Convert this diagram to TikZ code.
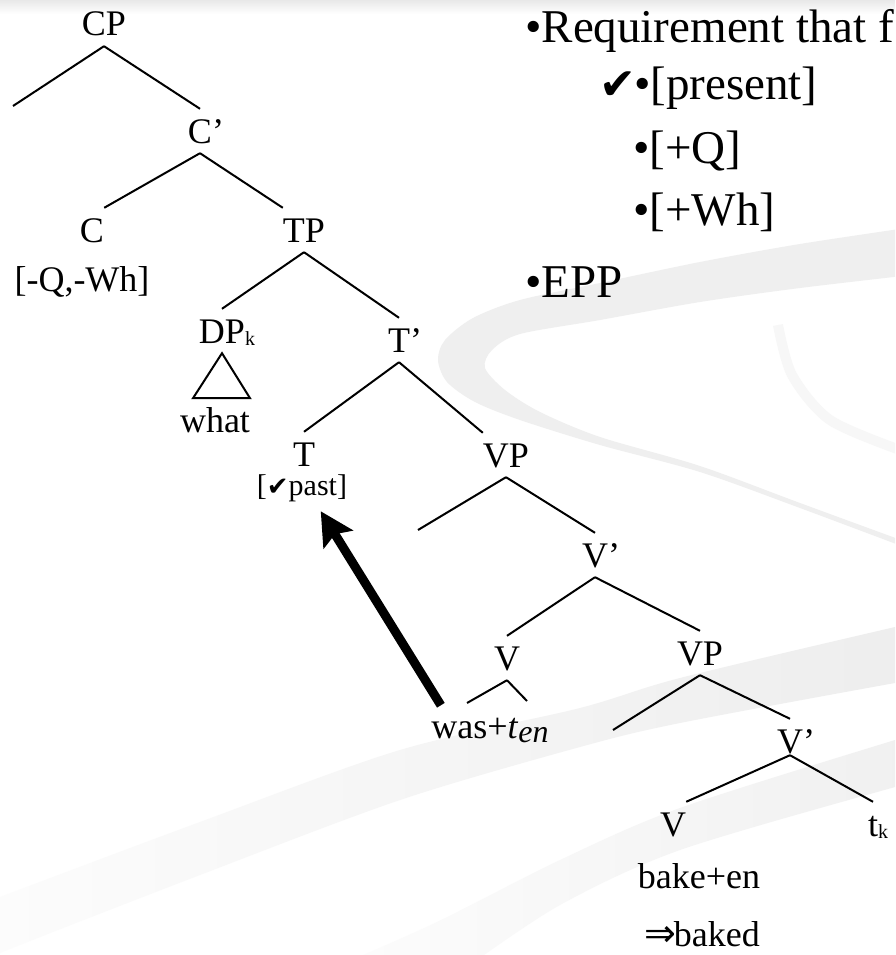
\documentclass[tikz,border=0pt]{standalone}
\usepackage{fontspec}
\setmainfont{Liberation Serif}
\newfontfamily\dejavu{DejaVu Sans}
\usetikzlibrary{arrows.meta,positioning}
\definecolor{swoosh}{HTML}{EFEFEF}
\definecolor{swooshlight}{HTML}{F7F7F7}
\newcommand{\treefont}{\fontsize{36}{40}\selectfont}
\newcommand{\featfont}{\fontsize{30}{34}\selectfont}
\newcommand{\listfont}{\fontsize{47}{52}\selectfont}
\newcommand{\lowidx}[1]{\raisebox{-2pt}{\fontsize{20}{20}\selectfont #1}}
\newcommand{\tick}[1]{{\dejavu\fontsize{#1}{#1}\selectfont ✔}}

\begin{document}
\begin{tikzpicture}[x=1pt,y=-1pt,
			lab/.style={font=\treefont,inner xsep=0pt,inner ysep=10pt,text height=24pt,text depth=0pt,anchor=base},
			feat/.style={font=\treefont,inner sep=2pt,anchor=base},
			item/.style={font=\listfont,inner sep=0pt,anchor=base west},
			br/.style={line width=2pt,black},
			mv/.style={line width=9pt,-{Stealth[length=33pt,width=34pt,inset=6pt]},shorten <=12pt,shorten >=9pt}
			]
			\useasboundingbox (0,0) rectangle (895,955);
			\clip (0,0) rectangle (895,955);
			\fill[white] (0,0) rectangle (895,955);
			\shade[top color=black!9,bottom color=white] (0,0) rectangle (895,14);
			\fill[swoosh] plot[smooth] coordinates {(920,226) (800,244) (700,262) (600,283) (520,300) (473,318) (445,340) (438,360) (447,382) (475,402) (520,420) (600,445) (700,472) (800,508) (920,553)}
				-- plot[smooth] coordinates {(920,547) (800,503) (700,466) (600,437) (540,412) (505,390) (485,368) (492,350) (520,334) (600,320) (700,302) (800,288) (920,274)} -- cycle;
			\draw[swooshlight,line width=10pt] plot[smooth] coordinates {(778,325) (792,375) (830,420) (900,450)};
			\shade[left color=black!1,right color=black!7] plot[smooth] coordinates {(-20,905) (0,897) (200,822) (400,750) (580,708) (680,678) (895,627) (920,622)}
				-- plot[smooth] coordinates {(920,680) (895,683) (680,723) (580,747) (400,800) (200,875) (0,953) (-20,965)} -- cycle;
			\shade[left color=black!1,right color=black!6] plot[smooth] coordinates {(340,965) (437,922) (560,860) (680,808) (895,740) (920,734)}
				-- plot[smooth] coordinates {(920,782) (895,787) (680,850) (560,905) (470,965)} -- cycle;

			\node[lab] (cp) at (104,36) {CP};
			\node[lab] (cb) at (200,143) {C\rlap{’}};
			\node[lab] (c) at (92,242) {C};
			\node[feat] (qwh) at (82,291) {[-Q,-Wh]};
			\node[lab] (tp) at (304,242) {TP};
			\node[lab] (dp) at (222,343) {DP\rlap{\lowidx{k}}};
			\node[feat] (what) at (215,432) {what};
			\node[lab] (tb) at (399,352) {T\rlap{’}};
			\node[lab] (t) at (304,466) {T};
			\node[feat,font=\featfont] (past) at (302,495) {[\tick{26}past]};
			\node[lab] (vp1) at (506,467) {VP};
			\node[lab] (vb1) at (595,567) {V\rlap{’}};
			\node[lab] (v1) at (507,670) {V};
			\node[feat] (was) at (490,738) {was+\textit{t}\raisebox{-4pt}{\fontsize{32}{32}\selectfont\itshape en}};
			\node[lab] (vp2) at (700,665) {VP};
			\node[lab] (vb2) at (790,753) {V\rlap{’}};
			\node[lab] (v2) at (673,836) {V};
			\node[lab] (tk) at (873,836) {t\rlap{\lowidx{k}}};
			\node[feat] (bake) at (699,888) {bake+en};
			\node[feat] (baked) at (702,946) {{\dejavu\fontsize{38}{38}\selectfont ⇒}\kern-2pt baked};

			\coordinate (spec1) at (13,106);
			\coordinate (spec2) at (418,530);
			\coordinate (spec3) at (613,730);
			\coordinate (wasl) at (467,703);
			\coordinate (wasr) at (527,701);

			\draw[br] (cp.south) -- (spec1);
			\draw[br] (cp.south) -- (cb.north);
			\draw[br] (cb.south) -- (c.north east);
			\draw[br] (cb.south) -- (tp.north west);
			\draw[br] (tp.south) -- (dp.north);
			\draw[br] (tp.south) -- (tb.north);
			\draw[br] (dp.south) -- ++(-29,45) -- ++(57,0) -- cycle;
			\draw[br] (tb.south) -- (t.north);
			\draw[br] (tb.south) -- (vp1.north west);
			\draw[br] (vp1.south) -- (spec2);
			\draw[br] (vp1.south) -- (vb1.north);
			\draw[br] (vb1.south) -- (v1.north);
			\draw[br] (vb1.south) -- (vp2.north);
			\draw[br] (v1.south) -- (wasl);
			\draw[br] (v1.south) -- (wasr);
			\draw[br] (vp2.south) -- (spec3);
			\draw[br] (vp2.south) -- (vb2.north);
			\draw[br] ([yshift=8pt]vb2.south) -- (v2.north east);
			\draw[br] ([yshift=8pt]vb2.south) -- (tk.north);
			\draw[mv] ([xshift=18pt]was.north west) -- ([xshift=14pt]past.south);

			\node[item] (req) at (525,43) {•Requirement that f};
			\node[item] (pres) at (599,100) {\tick{44}\kern-2pt•[present]};
			\node[item] (plusq) at (633,163) {•[+Q]};
			\node[item] (pluswh) at (633,225) {•[+Wh]};
			\node[item] (epp) at (525,297) {•EPP};
		\end{tikzpicture}
\end{document}
